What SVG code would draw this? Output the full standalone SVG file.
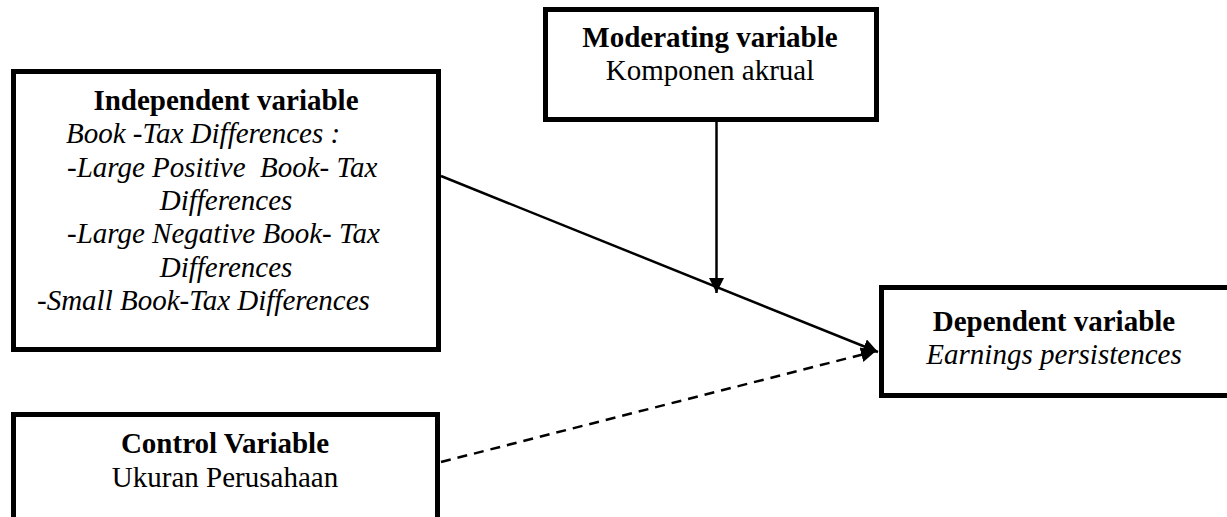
<svg xmlns="http://www.w3.org/2000/svg" width="1227" height="517" viewBox="0 0 1227 517">
<style>
.box{fill:#fff;stroke:#000;stroke-width:5}
text{font-family:"Liberation Serif","Times New Roman",serif;font-size:29px;fill:#000;white-space:pre}
.b{font-weight:bold}
.i{font-style:italic}
.c{text-anchor:middle}
.ln{stroke:#000;stroke-width:2.5;fill:none}
.dash{stroke-dasharray:10,7}
</style>
<defs>
<marker id="ah" markerUnits="userSpaceOnUse" markerWidth="18" markerHeight="18" refX="15" refY="7.5" orient="auto">
<path d="M0,0 L15,7.5 L0,15 z" fill="#000"/>
</marker>
</defs>
<rect width="1227" height="517" fill="#fff"/>
<g id="connectors">
<line class="ln" x1="716.5" y1="122" x2="716.5" y2="293" marker-end="url(#ah)"/>
<line class="ln" x1="441" y1="176" x2="878" y2="352" marker-end="url(#ah)"/>
<line class="ln dash" x1="441" y1="462" x2="876" y2="351" marker-end="url(#ah)"/>
</g>
<g id="moderating">
<rect class="box" x="545.5" y="9.5" width="331" height="110"/>
<text class="b c" x="710" y="47">Moderating variable</text>
<text class="c" x="710" y="80">Komponen akrual</text>
</g>
<g id="independent">
<rect class="box" x="13.5" y="71.5" width="425" height="278"/>
<text class="b c" x="226" y="110">Independent variable</text>
<text class="i" x="66" y="143">Book -Tax Differences :</text>
<text class="i" x="67" y="177">-Large Positive  Book- Tax</text>
<text class="i c" x="226" y="210">Differences</text>
<text class="i" x="67" y="243">-Large Negative Book- Tax</text>
<text class="i c" x="226" y="277">Differences</text>
<text class="i" x="37" y="310">-Small Book-Tax Differences</text>
</g>
<g id="dependent">
<rect class="box" x="881.5" y="287.5" width="350" height="108"/>
<text class="b c" x="1054" y="331">Dependent variable</text>
<text class="i c" x="1054" y="364">Earnings persistences</text>
</g>
<g id="control">
<rect class="box" x="13.5" y="414.5" width="424" height="120"/>
<text class="b c" x="225" y="453">Control Variable</text>
<text class="c" x="225" y="487">Ukuran Perusahaan</text>
</g>
</svg>
